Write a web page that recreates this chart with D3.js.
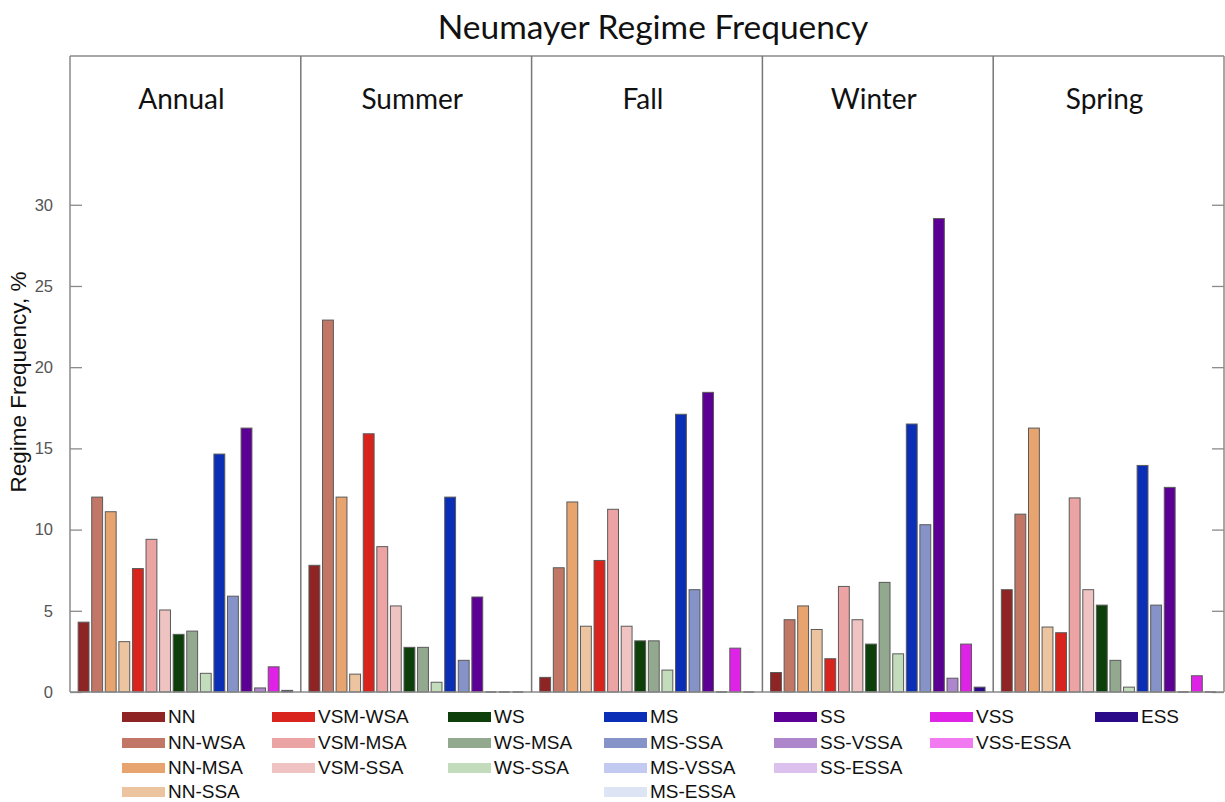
<!DOCTYPE html>
<html>
<head>
<meta charset="utf-8">
<script src="https://cdn.jsdelivr.net/npm/d3@7"></script>
<style>
  html, body { margin: 0; padding: 0; background: #fff; }
  svg { display: block; }
</style>
</head>
<body>
<svg id="chart" width="1225" height="802"></svg>
<script>
// ---------- data ----------
const panels = ["Annual", "Summer", "Fall", "Winter", "Spring"];
const barCategories = ["NN", "NN-WSA", "NN-MSA", "NN-SSA", "VSM-WSA", "VSM-MSA", "VSM-SSA",
  "WS", "WS-MSA", "WS-SSA", "MS", "MS-SSA", "SS", "SS-VSSA", "VSS", "ESS"];
const annualValues = [4.3, 12.0, 11.1, 3.1, 7.6, 9.4, 5.05, 3.55, 3.75, 1.15, 14.65, 5.9, 16.25, 0.25, 1.55, 0.1];
const summerValues = [7.8, 22.9, 12.0, 1.1, 15.9, 8.95, 5.3, 2.75, 2.75, 0.6, 12.0, 1.95, 5.85, 0, 0, 0];
const fallValues   = [0.9, 7.65, 11.7, 4.05, 8.1, 11.25, 4.05, 3.15, 3.15, 1.35, 17.1, 6.3, 18.45, 0, 2.7, 0];
const winterValues = [1.2, 4.45, 5.3, 3.85, 2.05, 6.5, 4.45, 2.95, 6.75, 2.35, 16.5, 10.3, 29.15, 0.85, 2.95, 0.3];
const springValues = [6.3, 10.95, 16.25, 4.0, 3.65, 11.95, 6.3, 5.35, 1.95, 0.3, 13.95, 5.35, 12.6, 0, 1.0, 0];
const seriesValues = [annualValues, summerValues, fallValues, winterValues, springValues];
const yTicks = [0, 5, 10, 15, 20, 25, 30];

// legend columns (category names)
const legendColumns = [
  ["NN", "NN-WSA", "NN-MSA", "NN-SSA"],
  ["VSM-WSA", "VSM-MSA", "VSM-SSA"],
  ["WS", "WS-MSA", "WS-SSA"],
  ["MS", "MS-SSA", "MS-VSSA", "MS-ESSA"],
  ["SS", "SS-VSSA", "SS-ESSA"],
  ["VSS", "VSS-ESSA"],
  ["ESS"]
];
const colors = {
  "NN": "#8f2424", "NN-WSA": "#c27766", "NN-MSA": "#e8a46e", "NN-SSA": "#ecc49f",
  "VSM-WSA": "#d8241c", "VSM-MSA": "#eca3a3", "VSM-SSA": "#eec3c1",
  "WS": "#0d3f0b", "WS-MSA": "#93a98f", "WS-SSA": "#c3dcbb",
  "MS": "#0a2fb6", "MS-SSA": "#8593c8", "MS-VSSA": "#c2caf2", "MS-ESSA": "#dde5f5",
  "SS": "#5c0095", "SS-VSSA": "#ae86cc", "SS-ESSA": "#dcc1ef",
  "VSS": "#de22e6", "VSS-ESSA": "#f27af0",
  "ESS": "#2b0a8a"
};

// ---------- layout ----------
const svg = d3.select("#chart");
const mLeft = 70, mRight = 1224, mTop = 56, mBottom = 692;
const panelScale = d3.scaleLinear().domain([0, panels.length]).range([mLeft, mRight]);
const y = d3.scaleLinear().domain([0, 39.16]).range([mBottom, mTop]);
const frameColor = "#8a8a8a";

// title
svg.append("text")
  .attr("x", 653).attr("y", 39)
  .attr("text-anchor", "middle")
  .attr("font-family", "Lato, 'Open Sans', sans-serif")
  .attr("font-size", 33.5)
  .attr("fill", "#111")
  .text("Neumayer Regime Frequency");

// y label
svg.append("text")
  .attr("transform", "translate(26,382) rotate(-90)")
  .attr("text-anchor", "middle")
  .attr("font-family", "'Liberation Sans', Arial, sans-serif")
  .attr("font-size", 22.5)
  .attr("fill", "#111")
  .text("Regime Frequency, %");

// left axis
const yAxisL = d3.axisLeft(y).tickValues(yTicks).tickSize(-12).tickPadding(17);
const gL = svg.append("g").attr("transform", `translate(${mLeft},0)`).call(yAxisL);
gL.select(".domain").remove();
gL.selectAll(".tick line").attr("stroke", frameColor).attr("stroke-width", 1.3);
gL.selectAll(".tick text").attr("font-family", "'Liberation Sans', Arial, sans-serif")
  .attr("font-size", 16.5).attr("fill", "#555");

// right axis ticks
const yAxisR = d3.axisRight(y).tickValues(yTicks).tickSize(-12).tickFormat("");
const gR = svg.append("g").attr("transform", `translate(${mRight},0)`).call(yAxisR);
gR.select(".domain").remove();
gR.selectAll(".tick line").attr("stroke", frameColor).attr("stroke-width", 1.3);

// panels
panels.forEach((p, pi) => {
  const x0 = panelScale(pi), x1 = panelScale(pi + 1);
  const x = d3.scaleLinear().domain([0, barCategories.length + 1]).range([x0, x1]);
  const bw = (x(1) - x(0)) * 0.8;
  const g = svg.append("g");
  const vals = seriesValues[pi];
  g.selectAll("rect").data(vals.map((v, i) => ({v, i, c: barCategories[i]})).filter(d => d.v > 0))
    .enter().append("rect")
    .attr("x", d => x(d.i + 1) - bw / 2)
    .attr("width", bw)
    .attr("y", d => y(d.v))
    .attr("height", d => y(0) - y(d.v))
    .attr("fill", d => colors[d.c])
    .attr("stroke", "#5a5a5a")
    .attr("stroke-width", 1);
  // zero-height bars drawn as flat edges
  g.selectAll("line.zero").data(vals.map((v, i) => ({v, i})).filter(d => d.v === 0))
    .enter().append("line")
    .attr("class", "zero")
    .attr("x1", d => x(d.i + 1) - bw / 2)
    .attr("x2", d => x(d.i + 1) + bw / 2)
    .attr("y1", y(0)).attr("y2", y(0))
    .attr("stroke", "#444").attr("stroke-width", 1.5);

  svg.append("text")
    .attr("x", (x0 + x1) / 2 - 4).attr("y", 109)
    .attr("text-anchor", "middle")
    .attr("font-family", "Lato, 'Open Sans', sans-serif")
    .attr("font-size", 28)
    .attr("fill", "#111")
    .text(p);
});

// frame
const frame = svg.append("g").attr("stroke", frameColor).attr("stroke-width", 1.5).attr("fill", "none");
frame.append("line").attr("x1", mLeft).attr("x2", mRight).attr("y1", mTop).attr("y2", mTop);
frame.append("line").attr("x1", mLeft).attr("x2", mRight).attr("y1", mBottom).attr("y2", mBottom);
d3.range(panels.length + 1).forEach(i => {
  frame.append("line")
    .attr("x1", panelScale(i)).attr("x2", panelScale(i))
    .attr("y1", mTop).attr("y2", mBottom)
    .attr("stroke", i === 0 || i === panels.length ? frameColor : "#777");
});

// legend
const legendColX = [122, 272, 448, 604, 774, 930, 1095];
const legendRowY = [717, 743, 768, 792];
const lg = svg.append("g");
legendColumns.forEach((col, ci) => {
  col.forEach((name, ri) => {
    const cy = legendRowY[ri];
    lg.append("rect")
      .attr("x", legendColX[ci]).attr("y", cy - 5)
      .attr("width", 43).attr("height", 10)
      .attr("fill", colors[name]);
    lg.append("text")
      .attr("x", legendColX[ci] + 46).attr("y", cy + 6)
      .attr("font-family", "'Liberation Sans', Arial, sans-serif")
      .attr("font-size", 19)
      .attr("fill", "#111")
      .text(name);
  });
});
</script>
</body>
</html>
